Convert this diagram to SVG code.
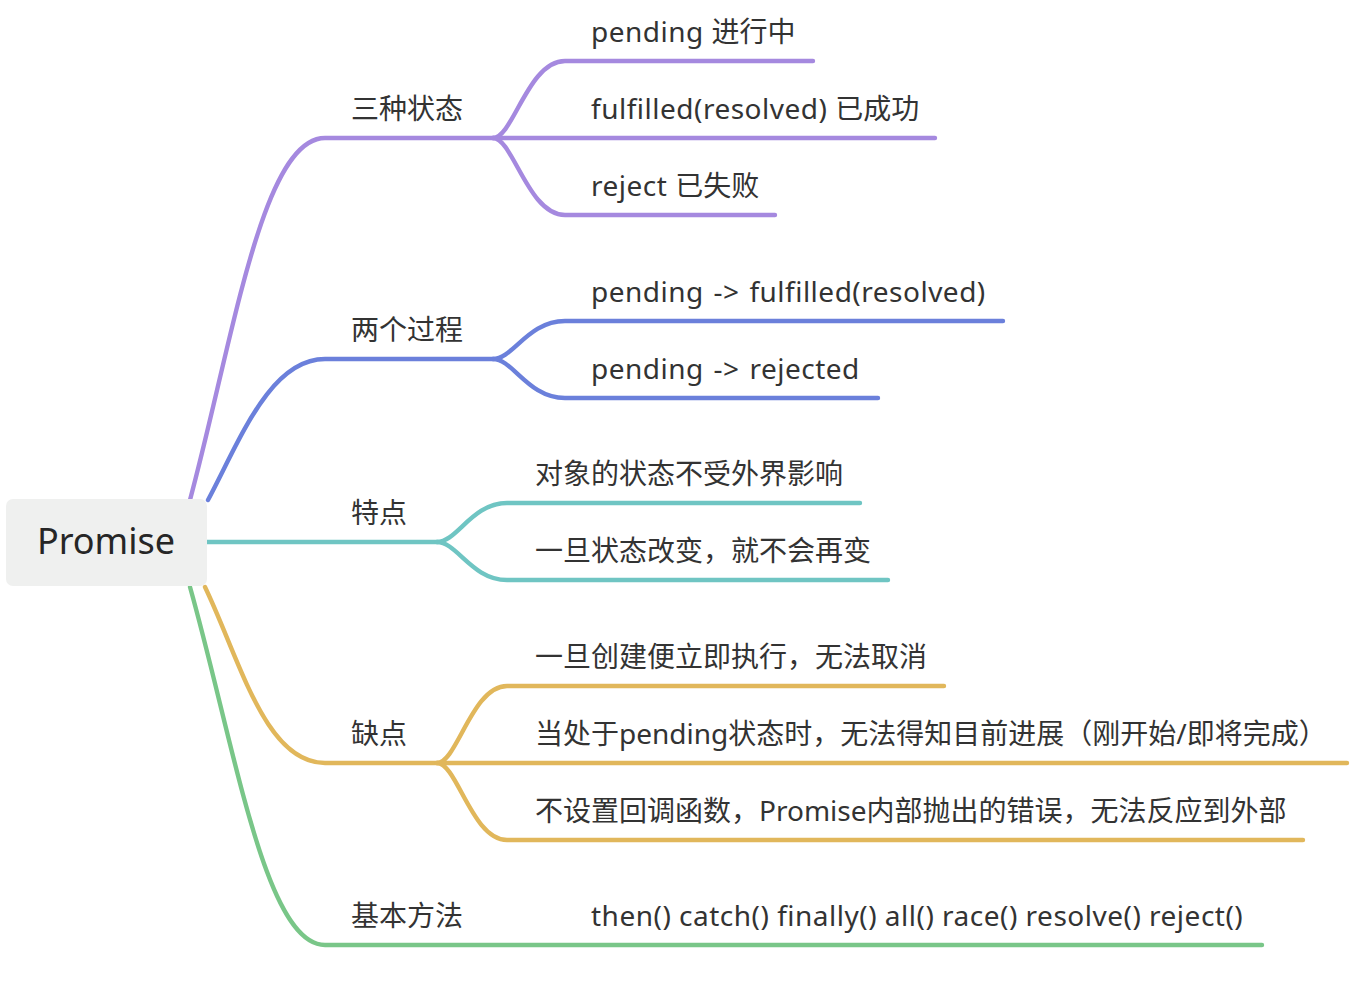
<svg xmlns="http://www.w3.org/2000/svg" width="1352" height="990" viewBox="0 0 1352 990">
<style>
.t{font-family:"Noto Sans","Noto Sans CJK SC",sans-serif;font-size:28px;fill:#333333}
.l{letter-spacing:0.5px}
.root{font-family:"Noto Sans","Noto Sans CJK SC",sans-serif;font-size:36px;fill:#262626}
.c{fill:none;stroke-width:4.4;stroke-linecap:round;stroke-linejoin:round}
.p{stroke:#A589DF}.b{stroke:#6B80DB}.g{stroke:#6FC5C3}.y{stroke:#E1B75B}.gr{stroke:#79C688}
</style>
<rect width="1352" height="990" fill="#ffffff"/>
<g id="connectors">
<path class="c p" d="M190 500 C233 340 262 138 325 138 L493 138"/>
<path class="c p" d="M493 138 C513 138 528 61 565 61 L813 61"/>
<path class="c p" d="M493 138 L935 138"/>
<path class="c p" d="M493 138 C513 138 528 215 565 215 L775 215"/>
<path class="c b" d="M208 500 C240 440 270 359 325 359 L493 359"/>
<path class="c b" d="M493 359 C513 359 528 321 565 321 L1003 321"/>
<path class="c b" d="M493 359 C513 359 528 398 565 398 L878 398"/>
<path class="c g" d="M207 542 L437 542"/>
<path class="c g" d="M437 542 C457 542 472 503 507 503 L860 503"/>
<path class="c g" d="M437 542 C457 542 472 580 507 580 L888 580"/>
<path class="c y" d="M205 587 C240 660 265 763 325 763 L437 763"/>
<path class="c y" d="M437 763 C457 763 472 686 507 686 L944 686"/>
<path class="c y" d="M437 763 L1347 763"/>
<path class="c y" d="M437 763 C457 763 472 840 507 840 L1303 840"/>
<path class="c gr" d="M190 587 C235 747 265 945 325 945 L1262 945"/>
</g>
<g id="root">
<rect x="6" y="499" width="201" height="87" rx="7" fill="#EFF0EF"/>
<text class="root" x="106" y="554" text-anchor="middle">Promise</text>
</g>
<g id="n-states"><text class="t" x="351" y="119">三种状态</text></g>
<g id="n-pending"><text class="t" x="591" y="42"><tspan class="l">pending </tspan>进行中</text></g>
<g id="n-fulfilled"><text class="t" x="591" y="119"><tspan class="l">fulfilled(resolved) </tspan>已成功</text></g>
<g id="n-reject"><text class="t" x="591" y="196"><tspan class="l">reject </tspan>已失败</text></g>
<g id="n-process"><text class="t" x="351" y="340">两个过程</text></g>
<g id="n-p1"><text class="t l" x="591" y="302" word-spacing="2">pending -&gt; fulfilled(resolved)</text></g>
<g id="n-p2"><text class="t l" x="591" y="379" word-spacing="2">pending -&gt; rejected</text></g>
<g id="n-feature"><text class="t" x="351" y="523">特点</text></g>
<g id="n-f1"><text class="t" x="535" y="484">对象的状态不受外界影响</text></g>
<g id="n-f2"><text class="t" x="535" y="561">一旦状态改变，就不会再变</text></g>
<g id="n-cons"><text class="t" x="351" y="744">缺点</text></g>
<g id="n-c1"><text class="t" x="535" y="667">一旦创建便立即执行，无法取消</text></g>
<g id="n-c2"><text class="t" x="535" y="744">当处于pending状态时，无法得知目前进展（刚开始/即将完成）</text></g>
<g id="n-c3"><text class="t" x="535" y="821">不设置回调函数，Promise内部抛出的错误，无法反应到外部</text></g>
<g id="n-methods"><text class="t" x="351" y="926">基本方法</text></g>
<g id="n-m1"><text class="t l" x="591" y="926">then() catch() finally() all() race() resolve() reject()</text></g>
</svg>
